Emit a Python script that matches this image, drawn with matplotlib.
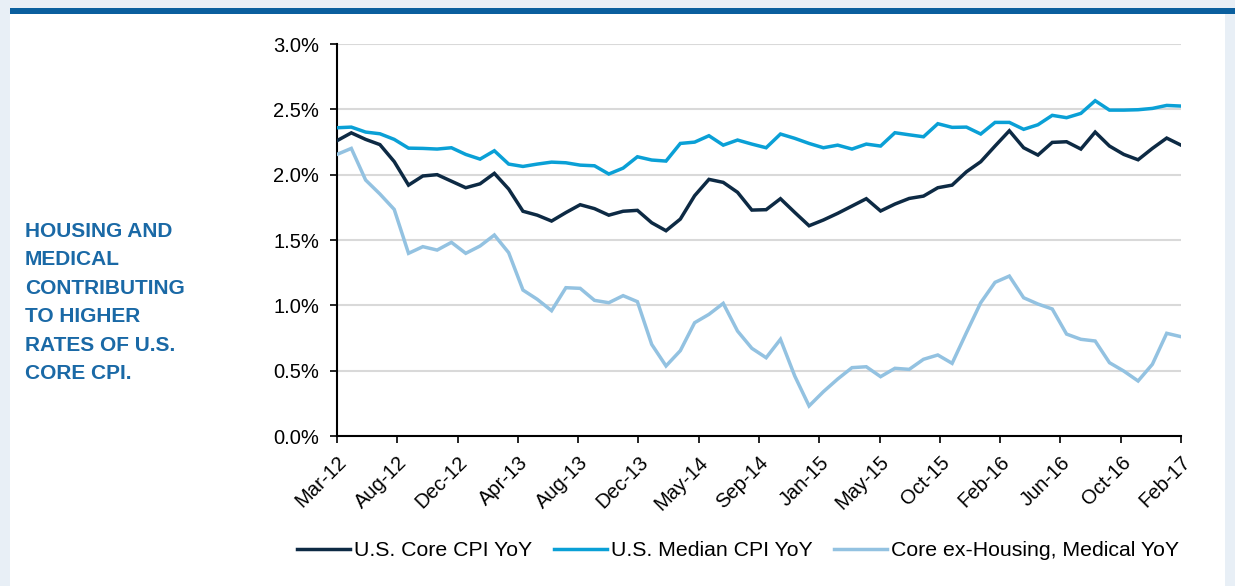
import matplotlib
matplotlib.use("Agg")
import matplotlib.pyplot as plt
import numpy as np
from matplotlib.patches import Rectangle
from matplotlib.ticker import FuncFormatter

plt.rcParams['font.family'] = ['Liberation Sans', 'DejaVu Sans']

# Monthly data, Mar-2012 .. Feb-2017 (60 months), values in percent
core_cpi = [2.26, 2.32, 2.27, 2.23, 2.10, 1.92, 1.99, 2.00, 1.95, 1.90, 1.93, 2.01, 1.89, 1.72, 1.69, 1.645, 1.71, 1.77, 1.74, 1.69,
            1.72, 1.727, 1.632, 1.571, 1.66, 1.839, 1.964, 1.941, 1.865, 1.729, 1.732, 1.816, 1.711, 1.609, 1.653, 1.704, 1.76, 1.816, 1.722, 1.775,
            1.818, 1.836, 1.90, 1.92, 2.022, 2.099, 2.219, 2.336, 2.206, 2.15, 2.247, 2.252, 2.196, 2.326, 2.219, 2.155, 2.114, 2.201, 2.28, 2.226]
median_cpi = [2.359, 2.364, 2.326, 2.313, 2.27, 2.203, 2.201, 2.196, 2.206, 2.155, 2.119, 2.183, 2.081, 2.063, 2.081, 2.096, 2.091, 2.073, 2.068, 2.005,
              2.05, 2.137, 2.112, 2.104, 2.239, 2.249, 2.298, 2.226, 2.265, 2.234, 2.206, 2.311, 2.278, 2.239, 2.206, 2.226, 2.196, 2.234, 2.219, 2.321,
              2.305, 2.29, 2.39, 2.362, 2.364, 2.311, 2.40, 2.40, 2.347, 2.382, 2.454, 2.436, 2.469, 2.566, 2.494, 2.494, 2.497, 2.507, 2.53, 2.525]
core_ex = [2.155, 2.201, 1.959, 1.852, 1.734, 1.398, 1.449, 1.423, 1.482, 1.398, 1.454, 1.538, 1.403, 1.117, 1.046, 0.959, 1.135, 1.13, 1.038, 1.02,
           1.074, 1.028, 0.701, 0.536, 0.653, 0.867, 0.931, 1.015, 0.803, 0.671, 0.599, 0.74, 0.459, 0.23, 0.339, 0.436, 0.523, 0.53, 0.454, 0.518,
           0.51, 0.587, 0.62, 0.556, 0.791, 1.02, 1.176, 1.224, 1.058, 1.01, 0.972, 0.78, 0.74, 0.727, 0.561, 0.497, 0.421, 0.549, 0.786, 0.76]

tick_labels = ["Mar-12", "Aug-12", "Dec-12", "Apr-13", "Aug-13", "Dec-13", "May-14", "Sep-14",
               "Jan-15", "May-15", "Oct-15", "Feb-16", "Jun-16", "Oct-16", "Feb-17"]
series_names = ["U.S. Core CPI YoY", "U.S. Median CPI YoY", "Core ex-Housing, Medical YoY"]
side_text = "HOUSING AND\nMEDICAL\nCONTRIBUTING\nTO HIGHER\nRATES OF U.S.\nCORE CPI."

W, H = 1235, 586
fig = plt.figure(figsize=(W / 100, H / 100), dpi=100)
fig.patch.set_facecolor('#e8eff6')

# white panel and top blue bar
fig.add_artist(Rectangle((10 / W, 0), (1225 - 10) / W, 1 - 14 / H, transform=fig.transFigure,
                         facecolor='white', edgecolor='none', zorder=0))
fig.add_artist(Rectangle((10 / W, 1 - 14 / H), (1235 - 10) / W, 6 / H, transform=fig.transFigure,
                         facecolor='#0a5f9e', edgecolor='none', zorder=1))

ax = fig.add_axes([337 / W, 1 - 436 / H, (1181 - 337) / W, (436 - 44) / H])
ax.set_facecolor('none')

x = np.arange(len(core_cpi))
c_core, c_med, c_ex = '#0d2a44', '#0aa0d6', '#93c2e1'
ax.plot(x, core_ex, color=c_ex, lw=2.5, solid_joinstyle='miter', label=series_names[2], zorder=3)
ax.plot(x, median_cpi, color=c_med, lw=2.5, solid_joinstyle='miter', label=series_names[1], zorder=4)
ax.plot(x, core_cpi, color=c_core, lw=2.5, solid_joinstyle='miter', label=series_names[0], zorder=5)

ax.set_xlim(0, len(core_cpi) - 1)
ax.set_ylim(0, 3.0)
ax.set_yticks(np.arange(0, 3.01, 0.5))
ax.yaxis.set_major_formatter(FuncFormatter(lambda v, p: f"{v:.1f}%"))
ax.grid(axis='y', color='#d9d9d9', lw=1.5, zorder=0)
ax.set_axisbelow(True)

ax.set_xticks(np.linspace(0, len(core_cpi) - 1, len(tick_labels)))
ax.set_xticklabels(tick_labels, rotation=45, ha='right', rotation_mode='anchor')

for s in ['top', 'right']:
    ax.spines[s].set_visible(False)
for s in ['left', 'bottom']:
    ax.spines[s].set_color('black')
    ax.spines[s].set_linewidth(1.5)
ax.tick_params(axis='both', direction='out', length=5, width=1.2, color='black',
               labelsize=14.5, labelcolor='black')
ax.tick_params(axis='x', pad=7)
ax.tick_params(axis='y', pad=8)

handles, labels = ax.get_legend_handles_labels()
order = [2, 1, 0]
leg = fig.legend([handles[i] for i in order], [labels[i] for i in order], loc='center',
                 bbox_to_anchor=(738 / W, 1 - 551 / H), ncol=3, frameon=False,
                 fontsize=15.3, handlelength=2.5, handletextpad=0.2, columnspacing=1.0)

# multi-line text: 'baseline' anchors the last line's baseline
fig.text(25 / W, 1 - 379 / H, side_text, ha='left', va='baseline', color='#1a69a6',
         fontsize=15, fontweight='bold', linespacing=1.63)

fig.savefig('out.png', dpi=100, facecolor=fig.get_facecolor())
